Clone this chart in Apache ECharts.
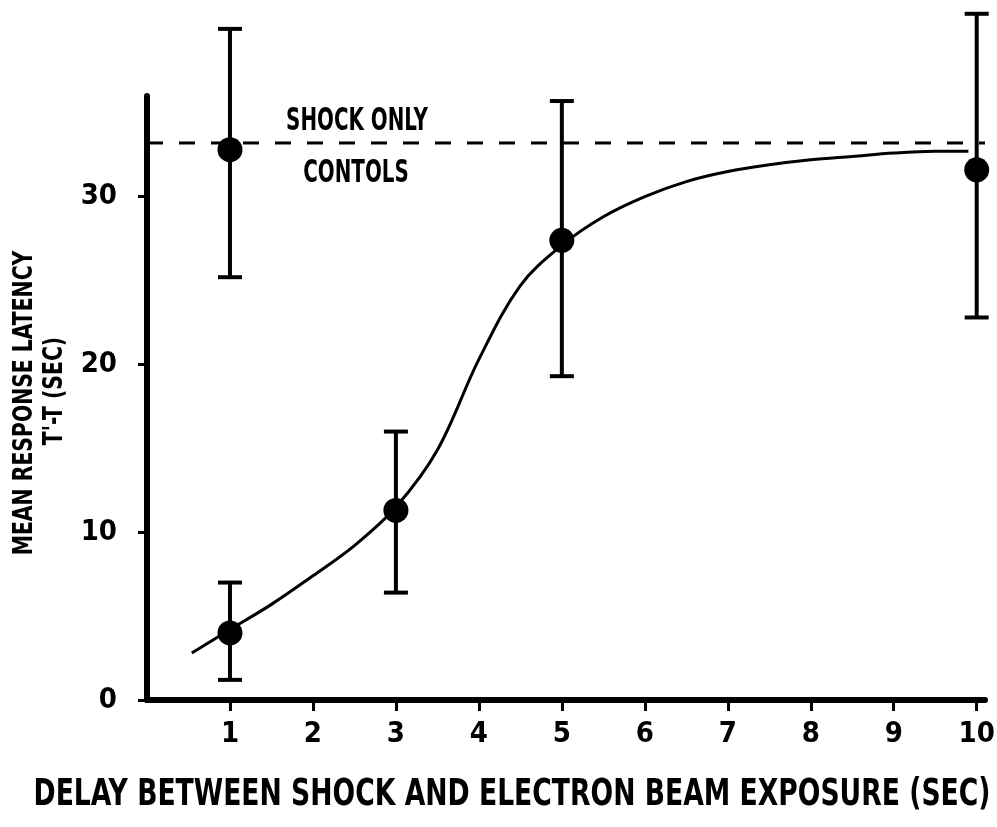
<!DOCTYPE html>
<html><head><meta charset="utf-8">
<script src="https://cdn.jsdelivr.net/npm/echarts@6/dist/echarts.min.js"></script>
<style>html,body{margin:0;padding:0;background:#fff}#c{width:997px;height:827px}</style>
</head><body><div id="c"></div>
<script>
// Data
const delays = [1, 3, 5, 10];
const meanLatency = [4.0, 11.3, 27.4, 31.6];
const errLow = [1.2, 6.4, 19.3, 22.8];
const errHigh = [7.0, 16.0, 35.7, 40.9];
const controlX = [1];
const controlMean = [32.8];
const controlLow = [25.2];
const controlHigh = [40.0];
const controlLevel = 33.2;
const curveX = [0.54, 1.0, 1.5, 2.0, 2.5, 3.0, 3.5, 4.0, 4.5, 5.0, 5.5, 6.0, 6.5, 7.0, 7.5, 8.0, 8.5, 9.0, 9.5, 9.9];
const curveY = [2.8, 4.2, 5.7, 7.4, 9.2, 11.5, 14.9, 20.3, 24.7, 27.1, 28.8, 30.0, 30.9, 31.5, 31.9, 32.2, 32.4, 32.6, 32.7, 32.7];
const xTicks = [1, 2, 3, 4, 5, 6, 7, 8, 9, 10];
const yTicks = [0, 10, 20, 30];
const xTitle = 'DELAY BETWEEN SHOCK AND ELECTRON BEAM EXPOSURE (SEC)';
const yTitle1 = 'MEAN RESPONSE LATENCY';
const yTitle2 = "T'-T (SEC)";
const note1 = 'SHOCK ONLY';
const note2 = 'CONTOLS';

const FONT = '"DejaVu Sans Condensed","Liberation Sans Narrow",sans-serif';

const errData = delays.map((d, i) => [d, errLow[i], errHigh[i]])
  .concat(controlX.map((d, i) => [d, controlLow[i], controlHigh[i]]));

const chart = echarts.init(document.getElementById('c'));
chart.setOption({
  animation: false,
  backgroundColor: '#fff',
  grid: { left: 147, right: 12, top: 96, bottom: 127, containLabel: false, outerBoundsMode: 'none' },
  xAxis: {
    type: 'value', min: 0, max: 10.1, interval: 1,
    splitLine: { show: false },
    axisLine: { lineStyle: { color: '#000', width: 6 } },
    axisTick: { show: true, length: 11, customValues: xTicks, lineStyle: { color: '#000', width: 3 } },
    axisLabel: {
      color: '#000', fontFamily: FONT, fontWeight: 'bold', fontSize: 29, margin: 20,
      customValues: xTicks
    }
  },
  yAxis: {
    type: 'value', min: 0, max: 36, interval: 10,
    splitLine: { show: false },
    axisLine: { show: true, lineStyle: { color: '#000', width: 6 } },
    axisTick: { show: true, length: 9, customValues: yTicks, lineStyle: { color: '#000', width: 3 } },
    axisLabel: {
      color: '#000', fontFamily: FONT, fontWeight: 'bold', fontSize: 29, margin: 30,
      customValues: yTicks
    }
  },
  graphic: [
    { type: 'text', x: 357, y: 122, scaleX: 0.69, style: { text: note1, fill: '#000', font: 'bold 32px ' + FONT, textAlign: 'center', textVerticalAlign: 'middle' } },
    { type: 'text', x: 356, y: 174, scaleX: 0.69, style: { text: note2, fill: '#000', font: 'bold 32px ' + FONT, textAlign: 'center', textVerticalAlign: 'middle' } },
    { type: 'text', x: 512, y: 795, scaleX: 0.80, style: { text: xTitle, fill: '#000', font: 'bold 37px ' + FONT, textAlign: 'center', textVerticalAlign: 'middle' } },
    { type: 'text', x: 25, y: 403, rotation: Math.PI / 2, scaleX: 0.87, style: { text: yTitle1, fill: '#000', font: 'bold 26px ' + FONT, textAlign: 'center', textVerticalAlign: 'middle' } },
    { type: 'text', x: 55, y: 391, rotation: Math.PI / 2, scaleX: 0.87, style: { text: yTitle2, fill: '#000', font: 'bold 26px ' + FONT, textAlign: 'center', textVerticalAlign: 'middle' } }
  ],
  series: [
    {
      type: 'line', data: [[0, controlLevel], [10.1, controlLevel]], symbol: 'none',
      lineStyle: { color: '#000', width: 3, type: [16, 16] }, silent: true, z: 1
    },
    {
      type: 'line', data: curveX.map((x, i) => [x, curveY[i]]), smooth: 0.35, symbol: 'none',
      lineStyle: { color: '#000', width: 3 }, z: 2
    },
    {
      type: 'custom', clip: false, z: 3,
      data: errData,
      renderItem: function (params, api) {
        const x = api.value(0);
        const lo = api.coord([x, api.value(1)]);
        const hi = api.coord([x, api.value(2)]);
        const cap = 12;
        const st = { stroke: '#000', lineWidth: 4 };
        return {
          type: 'group', children: [
            { type: 'line', shape: { x1: lo[0], y1: lo[1], x2: hi[0], y2: hi[1] }, style: st },
            { type: 'line', shape: { x1: lo[0] - cap, y1: lo[1], x2: lo[0] + cap, y2: lo[1] }, style: st },
            { type: 'line', shape: { x1: hi[0] - cap, y1: hi[1], x2: hi[0] + cap, y2: hi[1] }, style: st }
          ]
        };
      }
    },
    {
      type: 'scatter', symbol: 'circle', symbolSize: 25, z: 4,
      itemStyle: { color: '#000', opacity: 1 },
      data: delays.map((d, i) => [d, meanLatency[i]]).concat(controlX.map((d, i) => [d, controlMean[i]]))
    }
  ]
});
</script></body></html>
